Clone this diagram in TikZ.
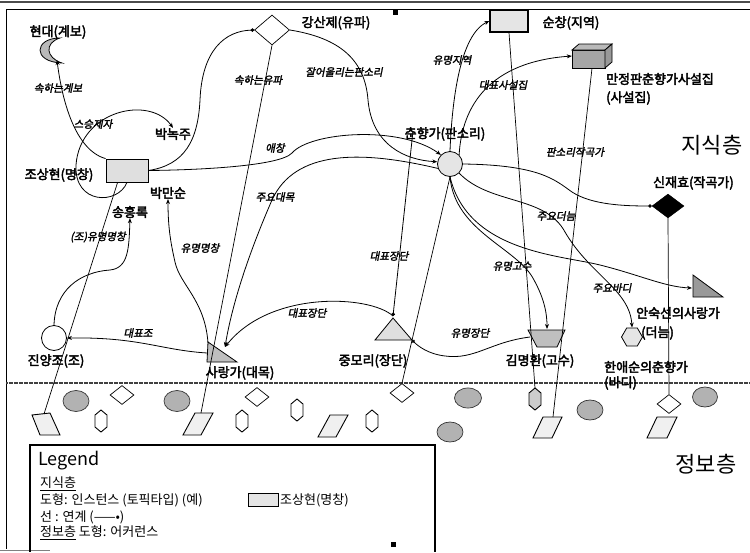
\documentclass[tikz,border=0pt]{standalone}
\usepackage{fontspec}
\setmainfont{Noto Sans CJK KR}
\newfontfamily\krb[FakeBold=3]{Noto Sans CJK KR}
\newfontfamily\kri[FakeBold=2.2,FakeSlant=0.2]{Noto Sans CJK KR}
\newfontfamily\krl{Noto Sans CJK KR}
\usetikzlibrary{shapes.geometric,arrows.meta,calc}
\tikzset{
  lbl/.style={font=\krb\fontsize{13}{13}\selectfont, inner sep=0pt},
  elbl/.style={font=\kri\fontsize{10.5}{10.5}\selectfont, inner sep=0pt},
  big/.style={font=\krl\fontsize{22}{22}\selectfont, inner sep=0pt},
  leg/.style={font=\krl\fontsize{13}{13}\selectfont, inner sep=0pt, anchor=west},
  edge/.style={line width=0.8pt, -{Stealth[length=5pt,width=4pt]}},
  dotedge/.style={line width=0.8pt, -{Circle[length=3.5pt]}},
  occ/.style={line width=0.7pt},
  odia/.style={diamond, draw, fill=white, line width=0.7pt, minimum width=24pt, minimum height=19pt, inner sep=0pt},
  oell/.style={fill=gray!60, draw=black!80, line width=0.7pt},
  opar/.style={fill=gray!12, draw, line width=0.9pt},
  ohex/.style={fill=white, draw, line width=0.9pt},
}
\begin{document}
\begin{tikzpicture}[x=1pt,y=-1pt]
\useasboundingbox (0,0) rectangle (750,552);
\fill[white] (0,0) rectangle (750,552);
% frame
\draw[gray!60!black, line width=2pt] (0,2) -- (750,2);
\draw[line width=0.8pt] (6,9) -- (750,9);
\draw[line width=0.8pt] (6,9) -- (6,549);
\draw[gray, line width=0.6pt] (0,550) -- (50,550);
\fill (393,10) rectangle (398,15);
\fill (391,542) rectangle (396,547);
% divider
\draw[gray!50!black, line width=1.4pt, dash pattern=on 2pt off 0.5pt] (6,383) -- (750,383);

% ---------------- knowledge layer nodes ----------------
\node[rectangle, draw, line width=0.8pt, fill=gray!25, minimum width=42pt, minimum height=23pt, inner sep=0pt] (jsh) at (127,170.5) {};
\node[lbl] (jshl) at (59,175) {조상현(명창)};
% crescent
\coordinate (cres) at (57,60);
\draw[fill=gray!55, line width=0.8pt] (60,38) .. controls (34,38) and (32,62) .. (62,63) .. controls (46,58) and (44,43) .. (60,38) -- cycle;
\node[lbl] (hdl) at (58,32) {현대(계보)};
\node[lbl] (bnj) at (173,134) {박녹주};
\node[lbl] (bms) at (168,193) {박만순};
\node[lbl] (shr) at (130,212) {송흥록};
\node[diamond, draw, fill=white, line width=0.7pt, minimum width=35pt, minimum height=30pt, inner sep=0pt] (gsj) at (272,30) {};
\node[lbl] (gsjl) at (336,23) {강산제(유파)};
\node[rectangle, draw, line width=1.3pt, fill=gray!20, minimum width=38pt, minimum height=22pt, inner sep=0pt] (sc) at (509,21) {};
\node[lbl] (scl) at (571,23) {순창(지역)};
% 3D box
\node[minimum width=40pt, minimum height=24pt, inner sep=0pt] (msj) at (592,56) {};
\draw[fill=gray!70, line width=0.8pt] (572,50) rectangle (605,68);
\draw[fill=gray!55, line width=0.8pt] (572,50) -- (579,44) -- (612,44) -- (605,50) -- cycle;
\draw[fill=gray!80, line width=0.8pt] (605,50) -- (612,44) -- (612,62) -- (605,68) -- cycle;
\node[lbl, anchor=west] (msjl) at (606,79) {만정판춘향가사설집};
\node[lbl, anchor=west] (msjl2) at (606,98) {(사설집)};
\node[big] (zs) at (712,145) {지식층};
\node[circle, draw, fill=gray!20, line width=0.8pt, minimum size=25pt, inner sep=0pt] (chy) at (450,164) {};
\node[lbl] (chyl) at (445,134) {춘향가(판소리)};
\coordinate (ctop) at (413,131);
\node[diamond, draw, fill=black, minimum width=32pt, minimum height=24pt, inner sep=0pt] (sjh) at (668,206) {};
\node[lbl, anchor=west] (sjhl) at (653,183) {신재효(작곡가)};
\node[circle, draw, fill=white, line width=0.8pt, minimum size=25pt, inner sep=0pt] (jyj) at (54,338) {};
\node[lbl] (jyjl) at (56,361) {진양조(조)};
% 사랑가 triangle
\draw[fill=gray!50, line width=0.8pt] (208,342) -- (237,362) -- (207,362) -- cycle;
\coordinate (srgA) at (208,343);
\coordinate (srgL) at (207,353);
\coordinate (srgR) at (225,347);
\node[lbl] (srgl) at (240,373) {사랑가(대목)};
% 중모리 triangle
\draw[fill=gray!25, line width=0.8pt] (393,318) -- (412,340) -- (375,340) -- cycle;
\coordinate (jmrA) at (393,316);
\coordinate (jmrR) at (412,340);
\node[lbl] (jmrl) at (373,361) {중모리(장단)};
% 김명환 trapezoid
\draw[fill=gray!50, line width=0.8pt] (528,330) -- (565,330) -- (557,347) -- (537,347) -- cycle;
\coordinate (kmhN) at (547,329);
\coordinate (kmhW) at (530,337);
\node[lbl] (kmhl) at (540,361) {김명환(고수)};
% 안숙선 triangle
\draw[fill=gray!80, line width=0.8pt] (693,275) -- (723,297) -- (693,297) -- cycle;
\coordinate (asW) at (692,288);
\node[lbl, anchor=west] (asl) at (636,313) {안숙선의사랑가};
% 한애순 hexagon
\node[regular polygon, regular polygon sides=6, draw, fill=gray!20, line width=0.8pt, minimum size=21pt, inner sep=0pt] (hex) at (632,337) {};
\node[lbl, anchor=west] (asl2) at (641,333) {(더늠)};
\node[lbl, anchor=west] (hasl) at (604,367) {한애순의춘향가};
\node[lbl, anchor=west] (hasl2) at (604,383) {(바디)};

% ---------------- knowledge layer connectors ----------------
\draw[edge] (jsh.north west) .. controls (75,150) and (62,100) .. (cres);
\node[elbl] at (58,88) {속하는계보};
\draw[edge] (jsh.south) .. controls (118,205) and (74,205) .. (76,165) .. controls (80,110) and (150,95) .. (bnj.north);
\node[elbl] at (93,124) {스승제자};
\draw[dotedge] (jsh.east) .. controls (185,165) and (198,140) .. (200,100) .. controls (202,50) and (225,31) .. (gsj.west);
\node[elbl] at (258,80) {속하는유파};
\draw[edge] (jsh.east) .. controls (200,170) and (280,166) .. (292,153) .. controls (310,132) and (400,125) .. (chy.north west);
\node[elbl] at (275,148) {애창};
\draw[edge] (gsj.east) .. controls (340,38) and (365,60) .. (368,100) .. controls (372,145) and (405,160) .. (chy.170);
\node[elbl] at (344,72) {잘어울리는판소리};
\draw[edge] (chy.200) .. controls (360,150) and (295,150) .. (272,200) .. controls (248,255) and (232,305) .. (srgR);
\node[elbl] at (275,197) {주요대목};
\draw[edge] (jmrA) .. controls (370,295) and (270,290) .. (srgR);
\node[elbl] at (307,313) {대표장단};
\draw[dotedge] (ctop) -- (jmrA);
\node[elbl] at (389,256) {대표장단};
\draw[dotedge] (kmhW) .. controls (490,342) and (475,360) .. (445,356) .. controls (428,354) and (418,346) .. (jmrR);
\node[elbl] at (470,333) {유명장단};
\draw[edge] (jyj.north) .. controls (55,290) and (80,272) .. (110,270) .. controls (128,268) and (129,250) .. (shr.south);
\node[elbl] at (98,237) {(조)유명명창};
\draw[edge] (srgA) .. controls (205,300) and (180,285) .. (175,262) .. controls (170,240) and (168,225) .. (bms.south);
\node[elbl] at (200,248) {유명명창};
\draw[edge] (srgL) .. controls (160,350) and (140,337) .. (jyj.east);
\node[elbl, fill=white, inner sep=1pt] at (138,333) {대표조};
\draw[edge] (chy.north) .. controls (452,100) and (460,35) .. (sc.west);
\node[elbl] at (452,60) {유명지역};
\draw[edge] (chy.north east) .. controls (462,105) and (490,62) .. (msj.west);
\node[elbl] at (503,85) {대표사설집};
\draw[dotedge] (chy.east) .. controls (540,165) and (555,180) .. (572,192) .. controls (592,205) and (625,206) .. (sjh.west);
\node[elbl] at (575,152) {판소리작곡가};
\draw[edge] (chy.south) .. controls (455,232) and (518,248) .. (534,280) .. controls (545,300) and (547,315) .. (kmhN);
\node[elbl] at (512,266) {유명고수};
\draw[edge] (chy.south east) .. controls (490,205) and (545,195) .. (565,232) .. controls (590,275) and (630,290) .. (hex.north);
\node[elbl] at (556,216) {주요더늠};
\draw[edge] (chy.south) .. controls (468,252) and (560,255) .. (600,265) .. controls (640,275) and (665,287) .. (asW);
\node[elbl] at (612,288) {주요바디};

% ---------------- information layer ----------------
\draw[oell] (76,401) ellipse [x radius=13pt, y radius=10.5pt];
\draw[oell] (177,401) ellipse [x radius=13pt, y radius=10.5pt];
\draw[oell] (468,398) ellipse [x radius=13.5pt, y radius=10pt];
\draw[oell] (450,432) ellipse [x radius=13pt, y radius=10pt];
\draw[oell] (590,410) ellipse [x radius=13pt, y radius=10pt];
\draw[oell] (705,397) ellipse [x radius=12.5pt, y radius=10pt];
\node[odia] (od0) at (122,395) {};
\node[odia] (od3) at (257,397) {};
\node[odia] (od1) at (402,393) {};
\node[odia] (od2) at (669,404) {};
\foreach \hx/\hy in {101/421, 242/421, 297/410, 372/421}
  \draw[ohex, shift={(\hx,\hy)}] (0,-11) -- (6,-6) -- (6,6) -- (0,11) -- (-6,6) -- (-6,-6) -- cycle;
\draw[ohex, fill=gray!40, shift={(535,399)}] (0,-11) -- (6,-6) -- (6,6) -- (0,11) -- (-6,6) -- (-6,-6) -- cycle;
\coordinate (hx5) at (535,388);
\draw[opar] (32,415) -- (50,413) -- (60,435) -- (40,435) -- cycle;
\coordinate (p1) at (44,414);
\draw[opar] (195,413) -- (213,413) -- (201,435) -- (183,435) -- cycle;
\coordinate (p2) at (201,413);
\draw[opar] (330,415) -- (348,415) -- (336,437) -- (318,437) -- cycle;
\draw[opar] (543,417) -- (562,417) -- (552,438) -- (533,438) -- cycle;
\coordinate (p4) at (553,417);
\draw[opar] (657,417) -- (677,417) -- (667,438) -- (647,438) -- cycle;
\node[big] (jb) at (706,464) {정보층};

% occurrence links
\draw[occ] (p1) -- ($(jsh.south west)+(12,0)$);
\draw[occ] (p2) -- (gsj.south);
\draw[occ] (od1.north) -- (chy.south);
\draw[occ] (hx5) -- (sc.south);
\draw[occ] (p4) -- (msj.south);
\draw[occ] (od2.north) -- (sjh.south);

% ---------------- legend ----------------
\draw[line width=1.4pt] (30,552) -- (30,445) -- (435,445) -- (435,552);
\node[leg, font=\krl\fontsize{18}{18}\selectfont] at (38,461) {Legend};
\node[leg] at (40,484) {\underline{지식층}};
\node[leg] at (40,500) {도형: 인스턴스\ (토픽타입)\ (예)};
\node[rectangle, draw, line width=0.8pt, fill=gray!20, minimum width=30pt, minimum height=13pt, inner sep=0pt] (legbox) at (263,500) {};
\node[leg] at (280,500) {조상현(명창)};
\node[leg] at (40,517) {선 : 연계 (——•)};
\node[leg] at (40,533) {\underline{정보층} 도형: 어커런스};
\end{tikzpicture}
\end{document}
